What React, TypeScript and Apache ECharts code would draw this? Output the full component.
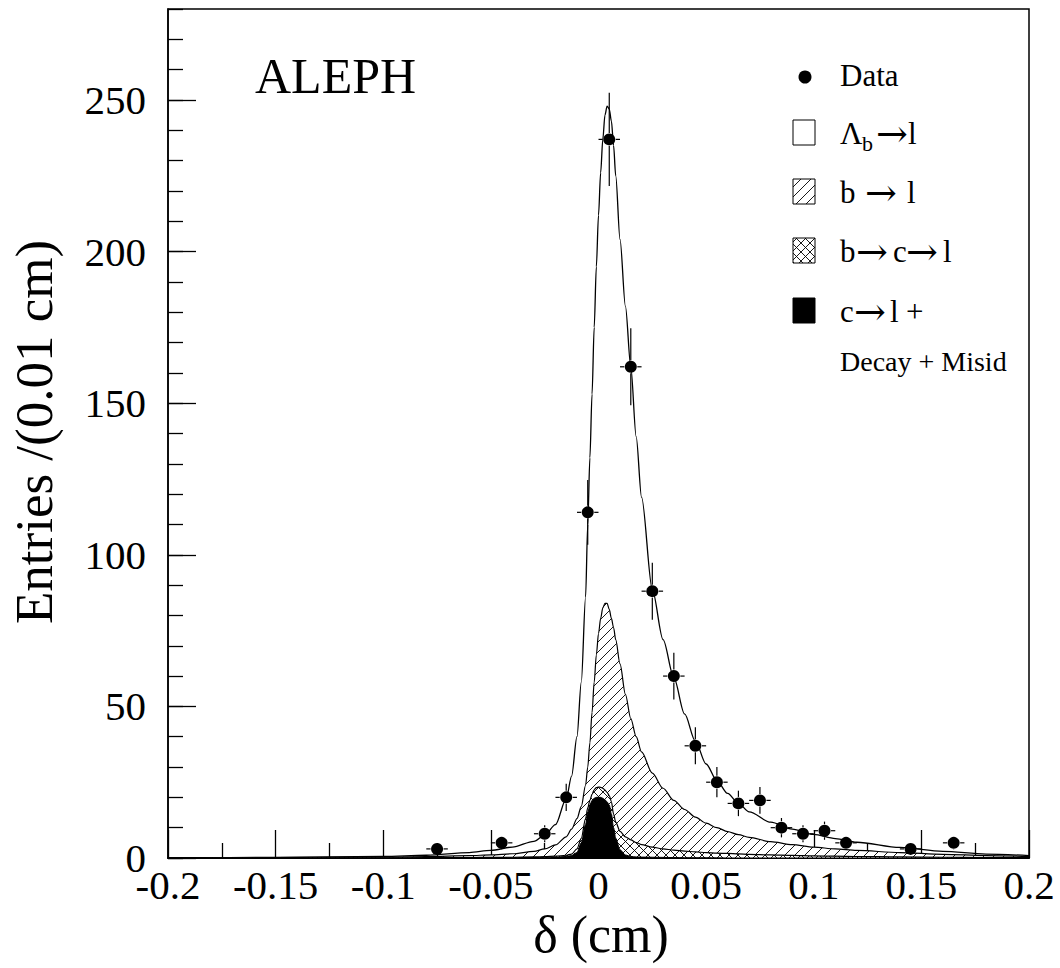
import React, { useEffect, useRef } from "react";
import * as echarts from "echarts";

// ---- Data points (bin centres, entries, errors) ----
const dataX = [-0.075, -0.045, -0.025, -0.015, -0.005, 0.005, 0.015, 0.025, 0.035, 0.045, 0.055, 0.065, 0.075, 0.085, 0.095, 0.105, 0.115, 0.145, 0.165];
const dataY = [3, 5, 8, 20, 114, 237, 162, 88, 60, 37, 25, 18, 19, 10, 8, 9, 5, 3, 5];
const dataErr = [1.7, 2.2, 2.8, 4.5, 10.7, 15.4, 12.7, 9.4, 7.7, 6.1, 5, 4.2, 4.4, 3.2, 2.8, 3, 2.2, 1.7, 2.2];
const binHalfWidth = 0.005;

// ---- Fit curves (stacked outlines) ----
const fitX = [-0.2, -0.15, -0.1, -0.08, -0.06, -0.05, -0.04, -0.03, -0.025, -0.02, -0.015, -0.0125, -0.01, -0.008, -0.006, -0.005, -0.004, -0.003, -0.002, -0.001, 0, 0.001, 0.002, 0.003, 0.004, 0.005, 0.006, 0.007, 0.008, 0.01, 0.0125, 0.015, 0.0175, 0.02, 0.025, 0.03, 0.035, 0.04, 0.045, 0.05, 0.055, 0.06, 0.065, 0.07, 0.08, 0.09, 0.1, 0.11, 0.12, 0.14, 0.16, 0.18, 0.2];
// total (Lambda_b -> l on top of everything)
const totalFit = [0.05, 0.2, 0.5, 0.9, 1.8, 2.5, 3.6, 5.5, 7.5, 11, 19.5, 27, 40, 58, 86, 110, 132, 153, 175, 195, 212, 226, 237, 245, 248, 247, 243, 235, 225, 204, 182, 162, 139, 119, 88.5, 72, 59.5, 47.5, 38.5, 31, 25.5, 21.3, 18, 15.2, 11.8, 9.5, 7.8, 6.4, 5.2, 3.5, 2.2, 1.3, 0.8];
// top of b -> l (hatched) layer
const bToLTop = [0, 0.1, 0.3, 0.5, 0.8, 1, 1.4, 2.2, 3, 4.3, 7, 9.5, 13, 17, 24, 30, 38, 48, 58, 67, 74, 79, 82.5, 84, 84, 82, 79, 76, 72, 64, 54, 46, 40, 35, 28, 23, 19, 16, 13.5, 11.5, 10, 8.7, 7.7, 6.8, 5.4, 4.4, 3.6, 3, 2.5, 1.8, 1.2, 0.8, 0.5];
// top of b -> c -> l (cross-hatched) layer
const bcToLTop = [0, 0, 0.05, 0.1, 0.15, 0.2, 0.25, 0.35, 0.45, 0.6, 0.9, 1.3, 3, 6.5, 13, 16.5, 19, 21, 22.5, 23.2, 23.4, 23.3, 23, 22.4, 21.6, 20.6, 18.5, 14.5, 11.8, 8.8, 7, 6, 5.1, 4.4, 3.6, 3, 2.6, 2.3, 2, 1.8, 1.6, 1.5, 1.35, 1.2, 1, 0.85, 0.7, 0.6, 0.5, 0.35, 0.25, 0.15, 0.1];
// c -> l + Decay + Misid (black)
const cToLTop = [0, 0, 0, 0, 0, 0.05, 0.1, 0.15, 0.2, 0.3, 0.5, 0.8, 1.8, 5, 11, 15, 17.5, 19, 19.7, 20, 20, 20, 19.7, 19.2, 18.5, 17.5, 14.5, 10, 6.5, 2.7, 1, 0.5, 0.35, 0.3, 0.25, 0.2, 0.15, 0.1, 0.1, 0.1, 0.05, 0, 0, 0, 0, 0, 0, 0, 0, 0, 0, 0, 0];

// ---- Axis ticks ----
const xTickValues = [-0.2, -0.15, -0.1, -0.05, 0, 0.05, 0.1, 0.15, 0.2];
const xTickLabels = ["-0.2", "-0.15", "-0.1", "-0.05", "0", "0.05", "0.1", "0.15", "0.2"];
const yTickLabels = ["0", "50", "100", "150", "200", "250"];

const SERIF = "'Liberation Serif', 'Times New Roman', Times, serif";
const ARROWFONT = "'DejaVu Serif', serif";

function makePattern(size: number, cross: boolean) {
  const c = document.createElement("canvas");
  c.width = size;
  c.height = size;
  const ctx = c.getContext("2d")!;
  ctx.fillStyle = "#fff";
  ctx.fillRect(0, 0, size, size);
  ctx.strokeStyle = "#000";
  ctx.lineWidth = 0.9;
  ctx.beginPath();
  ctx.moveTo(-1, size + 1); ctx.lineTo(size + 1, -1);
  ctx.moveTo(-1, 1); ctx.lineTo(1, -1);
  ctx.moveTo(size - 1, size + 1); ctx.lineTo(size + 1, size - 1);
  if (cross) {
    ctx.moveTo(-1, -1); ctx.lineTo(size + 1, size + 1);
    ctx.moveTo(size - 1, -1); ctx.lineTo(size + 1, 1);
    ctx.moveTo(-1, size - 1); ctx.lineTo(1, size + 1);
  }
  ctx.stroke();
  return { image: c, repeat: "repeat" } as any;
}

export default function App() {
  const ref = useRef<HTMLDivElement>(null);
  useEffect(() => {
    if (!ref.current) return;
    const chart = echarts.init(ref.current, undefined, { renderer: "svg" });
    const hatch = makePattern(10, false);
    const cross = makePattern(9, true);

    const zip = (ys: number[]) => fitX.map((x, i) => [x, ys[i]]);
    const points = dataX.map((x, i) => [x, dataY[i], dataErr[i]]);

    const lineBase = {
      type: "line",
      smooth: 0.3,
      smoothMonotone: "x",
      showSymbol: false,
      symbol: "none",
      xAxisIndex: 0,
      yAxisIndex: 0,
      silent: true,
    };

    const legendY = [75, 133, 192, 251, 311];
    const boxX = 793;
    const tx = 840;
    const txt = (text: string, x: number, y: number, size: number, family = SERIF, extra: any = {}) => ({
      type: "text",
      x,
      y,
      silent: true,
      style: { text, fontFamily: family, fontSize: size, fill: "#000", verticalAlign: "middle", ...extra },
    });
    const arrow = (x: number, y: number) => txt("→", x, y + 1, 38, ARROWFONT);

    const option: any = {
      animation: false,
      backgroundColor: "#fff",
      grid: [
        { left: 168, right: 31, top: 9, bottom: 110, show: true, borderColor: "#000", borderWidth: 1.5, backgroundColor: "transparent" },
        { left: 168, right: 31, top: 100, bottom: 110 },
      ],
      xAxis: [
        {
          type: "value",
          gridIndex: 0,
          min: -0.2,
          max: 0.2,
          interval: 0.05,
          axisLine: { show: true, onZero: false, lineStyle: { color: "#000", width: 2 } },
          axisTick: { show: true, inside: true, length: 28, lineStyle: { color: "#000", width: 1.3 } },
          minorTick: { show: true, splitNumber: 2, length: 15, lineStyle: { color: "#000", width: 1.3 } },
          splitLine: { show: false },
          axisLabel: {
            show: true,
            margin: 14,
            lineHeight: 26,
            color: "#000",
            fontFamily: SERIF,
            fontSize: 41,
            formatter: (v: number) => {
              const i = xTickValues.findIndex((t) => Math.abs(t - v) < 1e-9);
              return i >= 0 ? xTickLabels[i] : "";
            },
          },
        },
        { type: "value", gridIndex: 1, min: -0.2, max: 0.2, show: false },
      ],
      yAxis: [
        {
          type: "value",
          gridIndex: 0,
          min: 0,
          max: 280,
          interval: 10,
          axisLine: { show: true, onZero: false, lineStyle: { color: "#000", width: 1.5 } },
          axisTick: { show: true, inside: true, length: 15, lineStyle: { color: "#000", width: 1.3 } },
          axisLabel: { show: false },
          splitLine: { show: false },
        },
        {
          type: "value",
          gridIndex: 1,
          min: 0,
          max: 250,
          interval: 50,
          axisLine: { show: false, onZero: false },
          axisTick: { show: true, inside: true, length: 28, lineStyle: { color: "#000", width: 1.3 } },
          splitLine: { show: false },
          axisLabel: {
            show: true,
            margin: 22,
            lineHeight: 26,
            color: "#000",
            fontFamily: SERIF,
            fontSize: 41,
            formatter: (v: number) => yTickLabels[Math.round(v / 50)] ?? "",
          },
        },
      ],
      series: [
        { ...lineBase, name: "total", z: 2, data: zip(totalFit), lineStyle: { color: "#000", width: 1.3 } },
        { ...lineBase, name: "b->l", z: 3, data: zip(bToLTop), lineStyle: { color: "#000", width: 1.2 }, areaStyle: { color: hatch, opacity: 1 } },
        { ...lineBase, name: "b->c->l", z: 4, data: zip(bcToLTop), lineStyle: { color: "#000", width: 1.2 }, areaStyle: { color: cross, opacity: 1 } },
        { ...lineBase, name: "c->l", z: 5, data: zip(cToLTop), lineStyle: { color: "#000", width: 1 }, areaStyle: { color: "#000", opacity: 1 } },
        {
          type: "custom",
          name: "errors",
          z: 6,
          xAxisIndex: 0,
          yAxisIndex: 0,
          silent: true,
          data: points,
          renderItem: (params: any, api: any) => {
            const x = api.value(0);
            const y = api.value(1);
            const e = api.value(2);
            const c = api.coord([x, y]);
            const l = api.coord([x - binHalfWidth, y]);
            const r = api.coord([x + binHalfWidth, y]);
            const t = api.coord([x, y + e]);
            const b = api.coord([x, y - e]);
            const gap = 6.5;
            const st = { stroke: "#000", lineWidth: 1.2 };
            const children: any[] = [];
            if (c[0] - l[0] > gap) {
              children.push({ type: "line", shape: { x1: l[0], y1: c[1], x2: c[0] - gap, y2: c[1] }, style: st });
              children.push({ type: "line", shape: { x1: c[0] + gap, y1: c[1], x2: r[0], y2: c[1] }, style: st });
            }
            if (c[1] - t[1] > gap) {
              children.push({ type: "line", shape: { x1: c[0], y1: t[1], x2: c[0], y2: c[1] - gap }, style: st });
              children.push({ type: "line", shape: { x1: c[0], y1: c[1] + gap, x2: c[0], y2: b[1] }, style: st });
            }
            return { type: "group", children };
          },
        },
        {
          type: "scatter",
          name: "Data",
          z: 7,
          xAxisIndex: 0,
          yAxisIndex: 0,
          silent: true,
          symbol: "circle",
          symbolSize: 12,
          itemStyle: { color: "#000", opacity: 1 },
          data: points.map((p) => [p[0], p[1]]),
        },
      ],
      graphic: [
        txt("ALEPH", 255, 76, 50),
        // legend
        { type: "circle", silent: true, shape: { cx: boxX + 12, cy: legendY[0] + 2, r: 6.5 }, style: { fill: "#000" } },
        txt("Data", tx, legendY[0], 31),
        { type: "rect", silent: true, shape: { x: boxX, y: legendY[1] - 13, width: 22, height: 25 }, style: { fill: "#fff", stroke: "#000", lineWidth: 1 } },
        txt("Λ", tx, legendY[1], 31),
        txt("b", tx + 22, legendY[1] + 10, 22),
        arrow(tx + 36, legendY[1]),
        txt("l", tx + 68, legendY[1], 31),
        { type: "rect", silent: true, shape: { x: boxX, y: legendY[2] - 13, width: 22, height: 25 }, style: { fill: hatch, stroke: "#000", lineWidth: 1 } },
        txt("b", tx, legendY[2], 31),
        arrow(tx + 25, legendY[2]),
        txt("l", tx + 67, legendY[2], 31),
        { type: "rect", silent: true, shape: { x: boxX, y: legendY[3] - 13, width: 22, height: 25 }, style: { fill: cross, stroke: "#000", lineWidth: 1 } },
        txt("b", tx, legendY[3], 31),
        arrow(tx + 16, legendY[3]),
        txt("c", tx + 53, legendY[3], 31),
        arrow(tx + 66, legendY[3]),
        txt("l", tx + 103, legendY[3], 31),
        { type: "rect", silent: true, shape: { x: boxX, y: legendY[4] - 13, width: 22, height: 25 }, style: { fill: "#000", stroke: "#000", lineWidth: 1 } },
        txt("c", tx, legendY[4], 31),
        arrow(tx + 14, legendY[4]),
        txt("l", tx + 50, legendY[4], 31),
        txt("+", tx + 66, legendY[4], 31),
        txt("Decay + Misid", tx, 361, 28),
        // axis titles
        txt("δ (cm)", 601, 934, 52, SERIF, { align: "center" }),
        { ...txt("Entries /(0.01 cm)", 34, 432, 53, SERIF, { align: "center" }), rotation: Math.PI / 2 },
      ],
    };
    chart.setOption(option);
    return () => chart.dispose();
  }, []);
  return <div ref={ref} style={{ position: "absolute", left: 0, top: 0, width: 1060, height: 968 }} />;
}
